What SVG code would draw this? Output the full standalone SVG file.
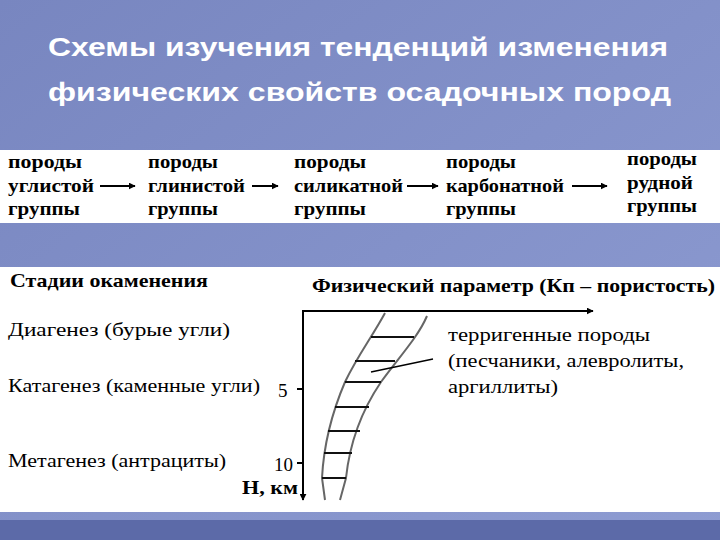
<svg xmlns="http://www.w3.org/2000/svg" width="720" height="540" viewBox="0 0 720 540">
<defs>
<linearGradient id="bg" x1="0" y1="0" x2="1" y2="1">
<stop offset="0" stop-color="#7886c0"/><stop offset="1" stop-color="#8e9cd2"/>
</linearGradient>
<marker id="ah" viewBox="0 0 10 10" refX="9" refY="5" markerWidth="7" markerHeight="7" orient="auto" markerUnits="userSpaceOnUse"><path d="M0,0 L10,5 L0,10 z" fill="#000"/></marker>
<style>
.b{font-family:"Liberation Serif",serif;font-weight:bold;font-size:19px;fill:#000}
.r{font-family:"Liberation Serif",serif;font-size:19px;fill:#000}
.ax{stroke:#000;stroke-width:2;fill:none}
.cv{stroke:#666;stroke-width:2;fill:none}
.rg{stroke:#111;stroke-width:2}
.t{font-family:"Liberation Sans",Arial,sans-serif;font-weight:bold;font-size:25px;fill:#fff}
</style>
</defs>
<rect width="720" height="540" fill="url(#bg)"/>
<rect y="520" width="720" height="20" fill="#5c6aa8"/>
<text class="t" x="48" y="56" textLength="620" lengthAdjust="spacingAndGlyphs">Схемы изучения тенденций изменения</text>
<text class="t" x="48" y="101" textLength="623" lengthAdjust="spacingAndGlyphs">физических свойств осадочных пород</text>
<rect x="0" y="150" width="720" height="73" fill="#fff"/>
<g id="n1"><text class="b" x="8" y="168" textLength="74" lengthAdjust="spacingAndGlyphs">породы</text><text class="b" x="8" y="192" textLength="86" lengthAdjust="spacingAndGlyphs">углистой</text><text class="b" x="8" y="215" textLength="72" lengthAdjust="spacingAndGlyphs">группы</text></g>
<g id="n2"><text class="b" x="148" y="168" textLength="70" lengthAdjust="spacingAndGlyphs">породы</text><text class="b" x="148" y="192" textLength="97" lengthAdjust="spacingAndGlyphs">глинистой</text><text class="b" x="148" y="215" textLength="70" lengthAdjust="spacingAndGlyphs">группы</text></g>
<g id="n3"><text class="b" x="294" y="168" textLength="72" lengthAdjust="spacingAndGlyphs">породы</text><text class="b" x="294" y="192" textLength="109" lengthAdjust="spacingAndGlyphs">силикатной</text><text class="b" x="294" y="215" textLength="72" lengthAdjust="spacingAndGlyphs">группы</text></g>
<g id="n4"><text class="b" x="446" y="168" textLength="70" lengthAdjust="spacingAndGlyphs">породы</text><text class="b" x="446" y="192" textLength="118" lengthAdjust="spacingAndGlyphs">карбонатной</text><text class="b" x="446" y="215" textLength="70" lengthAdjust="spacingAndGlyphs">группы</text></g>
<g id="n5"><text class="b" x="627" y="165" textLength="70" lengthAdjust="spacingAndGlyphs">породы</text><text class="b" x="627" y="189" textLength="66" lengthAdjust="spacingAndGlyphs">рудной</text><text class="b" x="627" y="212" textLength="70" lengthAdjust="spacingAndGlyphs">группы</text></g>
<g id="connectors">
<line class="ax" x1="100" y1="186" x2="135" y2="186" marker-end="url(#ah)"/>
<line class="ax" x1="252" y1="186" x2="278" y2="186" marker-end="url(#ah)"/>
<line class="ax" x1="407" y1="186" x2="438" y2="186" marker-end="url(#ah)"/>
<line class="ax" x1="572" y1="186" x2="607" y2="186" marker-end="url(#ah)"/>
</g>
<rect x="0" y="267" width="720" height="245" fill="#fff"/>
<text class="b" x="10" y="287" font-size="16" textLength="198" lengthAdjust="spacingAndGlyphs">Стадии окаменения</text>
<text class="b" x="312" y="292" font-size="17" textLength="403" lengthAdjust="spacingAndGlyphs">Физический параметр (Кп – пористость)</text>
<text class="r" x="8" y="336" textLength="222" lengthAdjust="spacingAndGlyphs">Диагенез  (бурые  угли)</text>
<text class="r" x="8" y="392" textLength="252" lengthAdjust="spacingAndGlyphs">Катагенез (каменные угли)</text>
<text class="r" x="8" y="467" textLength="218" lengthAdjust="spacingAndGlyphs">Метагенез (антрациты)</text>
<text class="r" x="278" y="397">5</text>
<text class="r" x="274" y="471">10</text>
<text class="b" x="242" y="494" font-size="17" textLength="56" lengthAdjust="spacingAndGlyphs">Н, км</text>
<g id="chart">
<line class="ax" x1="303" y1="311" x2="593" y2="311" marker-end="url(#ah)"/>
<line class="ax" x1="303" y1="310" x2="303" y2="500" marker-end="url(#ah)"/>
<line class="ax" x1="297" y1="389" x2="303" y2="389"/>
<line class="ax" x1="297" y1="463" x2="303" y2="463"/>
<path class="cv" d="M385,313 C372,337 358,355 345,382 C333,410 324,440 322,478 L325,500"/>
<path class="cv" d="M427,316 C418,337 400,356 381,382 C362,410 350,440 346,478 L340,500"/>
<line class="rg" x1="371" y1="337" x2="414" y2="337"/>
<line class="rg" x1="355" y1="361" x2="395" y2="361"/>
<line class="rg" x1="345" y1="382" x2="381" y2="382" stroke="#777"/>
<line class="rg" x1="335" y1="407" x2="369" y2="407" stroke="#777"/>
<line class="rg" x1="328" y1="431" x2="360" y2="431"/>
<line class="rg" x1="324" y1="453" x2="352" y2="453" stroke-width="1.3"/>
<line class="rg" x1="322" y1="478" x2="346" y2="478"/>
<line stroke="#000" stroke-width="1.3" x1="371" y1="372" x2="433" y2="359"/>
</g>
<text class="r" x="448" y="341" textLength="202" lengthAdjust="spacingAndGlyphs">терригенные породы</text>
<text class="r" x="448" y="367" textLength="236" lengthAdjust="spacingAndGlyphs">(песчаники, алевролиты,</text>
<text class="r" x="448" y="393" textLength="110" lengthAdjust="spacingAndGlyphs">аргиллиты)</text>
</svg>
